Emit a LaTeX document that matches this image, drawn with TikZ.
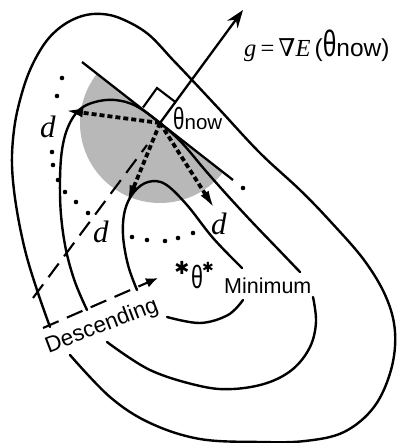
\documentclass[tikz,border=0pt]{standalone}
\usepackage{fontspec}
\usepackage{graphicx}
\usetikzlibrary{arrows.meta,calc}
\newfontfamily\lsans{Liberation Sans}
\newfontfamily\lserif{Liberation Serif}
\newfontfamily\dvs{DejaVu Sans}
\newfontfamily\dvserif{DejaVu Serif}
\newcommand\tallth{\scalebox{1}[1.5]{θ}}
\begin{document}
\begin{tikzpicture}[x=1pt,y=-1pt,
  contour/.style={line width=2.4pt, line cap=round, line join=round},
  tanline/.style={line width=2.3pt},
  grad/.style={line width=2.3pt, -{Stealth[length=18pt,width=13pt,inset=6pt]}},
  dvec/.style={line width=3.8pt, dash pattern=on 5pt off 3pt, -{Latex[length=21pt,width=9pt]}},
  longdash/.style={line width=2.1pt, dash pattern=on 17pt off 9pt},
  shadearea/.style={fill=black!28},
  sanslab/.style={font=\lsans\fontsize{21.5}{21.5}\selectfont, inner sep=0pt},
  dlab/.style={font=\lserif\itshape\fontsize{31}{31}\selectfont, inner sep=0pt},
]
\useasboundingbox (0,0) rectangle (401,443);
\coordinate (th) at (160,123);
% shaded half disk
\fill[shadearea] ($(th)+(-142:80)$) arc[start angle=-142, end angle=-322, radius=80] -- cycle;
% dotted arc
\foreach \p in {(62,78),(57,96),(52,152),(53,165),(58,180),(65,192),(76,202),(88,213),(132,237),(147,240),(165,241),(178,238),(193,233),(243,188)}
  \fill \p circle[radius=2.3];
% outer contour C1
\draw[contour] plot[smooth, tension=0.6] coordinates {(50,327) (37,290) (25,250) (16,205) (12,165) (14,130) (20,100) (30,70) (45,43) (62,26) (82,16) (102,14) (122,19) (148,34) (173,60) (192,80) (220,110) (260,153) (300,190) (330,221) (364,260) (386,297) (395,332) (391,370) (374,407) (344,432) (305,441) (260,442) (200,439) (150,423) (110,397) (70,355)};
% contour C2
\draw[contour] plot[smooth, tension=0.6] coordinates {(87,310) (75,282) (66,250) (61,215) (60,180) (62,150) (68,127) (79,110) (95,102) (115,100) (136,106) (160,123) (182,143) (205,170) (228,196) (252,222) (276,247) (300,272)};
\draw[contour] plot[smooth, tension=0.6] coordinates {(313,297) (316,322) (310,347) (293,369) (267,383) (233,389) (200,386) (150,370) (107,342)};
% contour C3
\draw[contour] plot[smooth, tension=0.6] coordinates {(137,290) (128,265) (123,235) (125,210) (134,192) (148,182) (165,184) (187,205) (213,238) (242,268)};
\draw[contour] plot[smooth, tension=0.6] coordinates {(243,300) (228,315) (200,323) (167,317)};
% tangent line and gradient
\coordinate (t1) at (82,62);
\coordinate (t2) at (233,180);
\draw[tanline] (t1) -- (t2);
\coordinate (gtip) at (243,10);
\draw[grad] (th) -- (gtip);
\draw[line width=2.1pt] (143,107.5) -- (157,88) -- (176,102.5);
% long dashed lines
\coordinate (l1s) at (33,298);
\coordinate (l1e) at (147,145);
\draw[longdash] (l1s) -- (l1e);
\coordinate (l2s) at (43,328);
\coordinate (l2e) at (158,278);
\draw[longdash, -{Latex[length=12pt,width=10pt]}] (l2s) -- (l2e);
% d vectors
\coordinate (dA) at (62,110);
\coordinate (dB) at (126,206);
\coordinate (dC) at (216,211);
\draw[dvec] (th) -- (dA);
\draw[dvec] (th) -- (dB);
\draw[dvec] (th) -- (dC);
% labels
\node[dlab, anchor=base west] (labdA) at (40,138) {d};
\node[dlab, anchor=base west] (labdB) at (93,242) {d};
\node[dlab, anchor=base west] (labdC) at (211,234) {d};
\node[sanslab, font=\lsans\fontsize{20.5}{20.5}\selectfont, anchor=base west] (thnow) at (173,130) {\tallth now};
\node[inner sep=0pt, anchor=base west, font=\fontsize{24.5}{24.5}\selectfont] (formula) at (244,57)
  {\lserif\itshape g\,\upshape =\,{\dvserif ∇}\itshape E\,\upshape{\lsans(\tallth now)}};
\node[inner sep=0pt, font=\dvs\fontsize{18}{18}\selectfont] (minmark) at (182,268) {✱};
\node[sanslab, anchor=base west] (thstar) at (191,288) {\tallth};
\node[inner sep=0pt, font=\dvs\fontsize{14}{14}\selectfont] (star) at (208,267) {✱};
\node[sanslab, anchor=base west] (minlab) at (224,293) {Minimum};
\node[sanslab, font=\lsans\fontsize{22.5}{22.5}\selectfont, rotate=21, anchor=base] (desc) at (104,332) {Descending};
\end{tikzpicture}
\end{document}
